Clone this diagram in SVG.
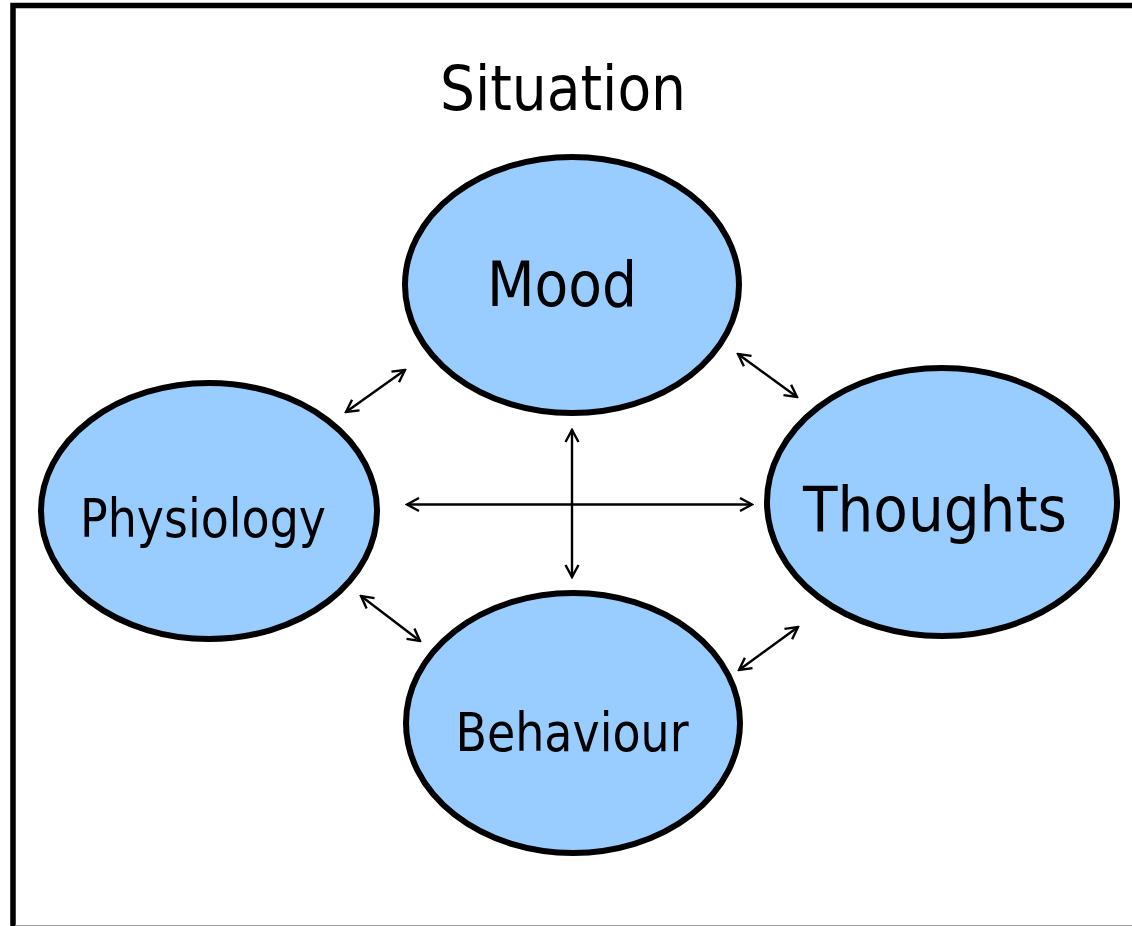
<svg xmlns="http://www.w3.org/2000/svg" width="1132" height="926" viewBox="0 0 1132 926">
<style>
.node{fill:#99CCFF;stroke:#000;stroke-width:6}
.lbl{font-family:"DejaVu Sans Condensed","DejaVu Sans",sans-serif;font-stretch:condensed;fill:#000;text-anchor:middle}
.con{stroke:#000;stroke-width:2.4;fill:none;marker-start:url(#ah);marker-end:url(#ah)}
</style>
<defs>
<marker id="ah" viewBox="0 0 16 16" refX="14" refY="8" markerWidth="16" markerHeight="16" markerUnits="userSpaceOnUse" orient="auto-start-reverse">
<path d="M2,1.5 L14,8 L2,14.5" fill="none" stroke="#000" stroke-width="2.4"/>
</marker>
</defs>
<rect x="0" y="0" width="1132" height="926" fill="#fff"/>
<rect x="13" y="5.5" width="1130" height="930" fill="none" stroke="#000" stroke-width="5.5"/>
<line x1="15" y1="925.5" x2="1132" y2="925.5" stroke="#999" stroke-width="1"/>
<text class="lbl" x="563" y="110" font-size="62" textLength="246" lengthAdjust="spacingAndGlyphs">Situation</text>
<g id="connectors">
<line class="con" x1="346" y1="412" x2="405" y2="370"/>
<line class="con" x1="738" y1="354" x2="797" y2="397"/>
<line class="con" x1="361" y1="596" x2="420" y2="641"/>
<line class="con" x1="739" y1="670" x2="798" y2="627"/>
<line class="con" x1="572" y1="430" x2="572" y2="577"/>
<line class="con" x1="407" y1="504.5" x2="752" y2="504.5"/>
</g>
<g id="mood">
<ellipse class="node" cx="572" cy="285" rx="167" ry="128"/>
<text class="lbl" x="562" y="306" font-size="63" textLength="150" lengthAdjust="spacingAndGlyphs">Mood</text>
</g>
<g id="physiology">
<ellipse class="node" cx="209" cy="511" rx="168" ry="128"/>
<text class="lbl" x="203" y="537" font-size="54" textLength="246" lengthAdjust="spacingAndGlyphs">Physiology</text>
</g>
<g id="thoughts">
<ellipse class="node" cx="942" cy="502" rx="175" ry="134"/>
<text class="lbl" x="935" y="531" font-size="63" textLength="264" lengthAdjust="spacingAndGlyphs">Thoughts</text>
</g>
<g id="behaviour">
<ellipse class="node" cx="573" cy="723" rx="167" ry="130"/>
<text class="lbl" x="572" y="751" font-size="54" textLength="233" lengthAdjust="spacingAndGlyphs">Behaviour</text>
</g>
</svg>
